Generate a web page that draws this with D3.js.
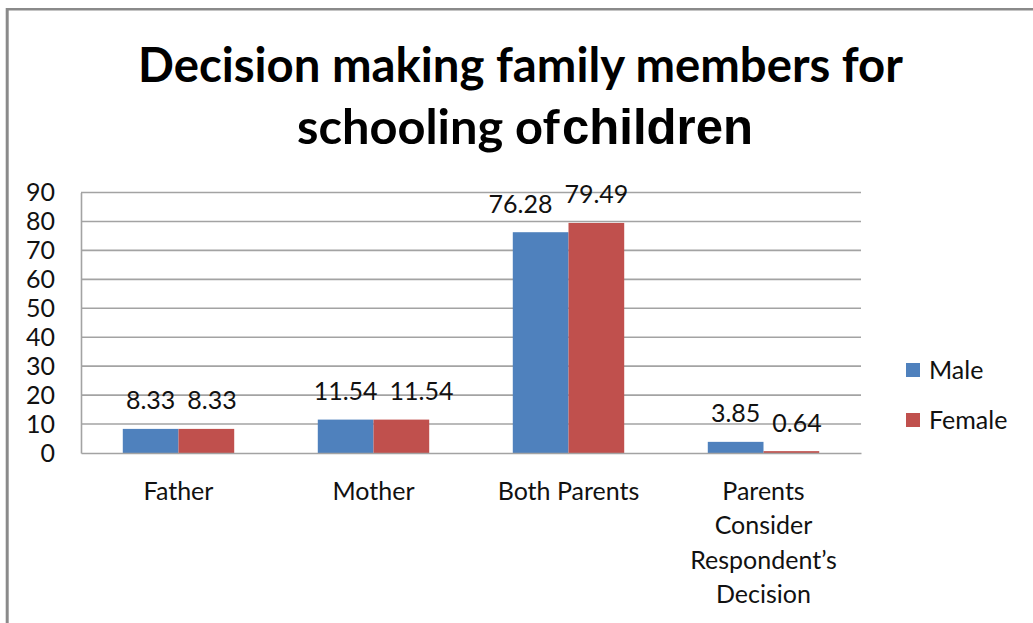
<!DOCTYPE html>
<html>
<head>
<meta charset="utf-8">
<script src="https://cdn.jsdelivr.net/npm/d3@7"></script>
<style>
  html, body { margin: 0; padding: 0; background: #fff; }
  svg { display: block; }
</style>
</head>
<body>
<svg id="chart" width="1033" height="623"></svg>
<script>
// ---- data ----
const categories = ["Father", "Mother", "Both Parents", "Parents Consider Respondent\u2019s Decision"];
const seriesNames = ["Male", "Female"];
const maleValues = [8.33, 11.54, 76.28, 3.85];
const femaleValues = [8.33, 11.54, 79.49, 0.64];
const yTicks = [0, 10, 20, 30, 40, 50, 60, 70, 80, 90];
const titleLine1 = "Decision making family members for";
const titleLine2a = "schooling of";
const titleLine2b = "children";

// ---- styles / layout ----
const colors = { Male: "#4F81BD", Female: "#C0504D" };
const FONT = "Lato, 'Open Sans', sans-serif";
const W = 1033, H = 623;
const plot = { left: 81, right: 861, top: 192.5, bottom: 453 };

const svg = d3.select("#chart");
svg.append("rect").attr("width", W).attr("height", H).attr("fill", "#fff");

// outer frame (left and top edges visible)
svg.append("line").attr("x1", 7).attr("x2", W).attr("y1", 9.3).attr("y2", 9.3)
  .attr("stroke", "#8a8a8a").attr("stroke-width", 2.6);
svg.append("line").attr("x1", 7.2).attr("x2", 7.2).attr("y1", 8).attr("y2", H)
  .attr("stroke", "#8a8a8a").attr("stroke-width", 3);

// title
const t1 = svg.append("text").attr("text-anchor", "middle")
  .attr("font-family", FONT).attr("font-weight", 700).attr("fill", "#000")
  .attr("font-size", 40).attr("x", (138 + 903) / 2).attr("y", 82).text(titleLine1);
const w1 = t1.node().getComputedTextLength();
const titleSize = 40 * 765 / w1;
t1.attr("font-size", titleSize);

const t2 = svg.append("text").attr("font-family", FONT).attr("font-weight", 700)
  .attr("fill", "#000").attr("font-size", titleSize).attr("x", 297).attr("y", 144)
  .text(titleLine2a);
t2.attr("textLength", 263).attr("lengthAdjust", "spacingAndGlyphs");
svg.append("text").attr("font-family", "'Liberation Sans', Arial, sans-serif")
  .attr("font-weight", 700).attr("fill", "#000").attr("font-size", 50)
  .attr("x", 562).attr("y", 144).attr("textLength", 191)
  .attr("lengthAdjust", "spacingAndGlyphs").text(titleLine2b);

// scales
const x0 = d3.scaleBand().domain(categories).range([plot.left, plot.right])
  .paddingInner(0.4286).paddingOuter(0.2143);
const x1 = d3.scaleBand().domain(seriesNames).range([0, x0.bandwidth()]);
const y = d3.scaleLinear().domain([0, 90]).range([plot.bottom, plot.top]);

// gridlines
svg.append("g").selectAll("line").data(yTicks.filter(d => d > 0)).join("line")
  .attr("x1", plot.left).attr("x2", plot.right)
  .attr("y1", d => y(d)).attr("y2", d => y(d))
  .attr("stroke", "#a3a3a3").attr("stroke-width", 1.6);

// y axis via d3.axisLeft
const yAxis = svg.append("g").attr("transform", `translate(${plot.left},0)`)
  .call(d3.axisLeft(y).tickValues(yTicks).tickSize(0).tickPadding(26).tickFormat(d3.format("d")));
yAxis.select(".domain").attr("stroke", "#a3a3a3").attr("stroke-width", 1.6);
yAxis.selectAll("text").attr("font-family", FONT).attr("font-size", 25)
  .attr("fill", "#111").attr("dy", "0.33em");

// data rows
const rows = categories.map((c, i) => ({ cat: c, Male: maleValues[i], Female: femaleValues[i] }));

// bars
const groups = svg.append("g").selectAll("g").data(rows).join("g")
  .attr("transform", d => `translate(${x0(d.cat)},0)`);
groups.selectAll("rect").data(d => seriesNames.map(s => ({ s, v: d[s] }))).join("rect")
  .attr("x", d => x1(d.s)).attr("width", x1.bandwidth())
  .attr("y", d => y(d.v)).attr("height", d => y(0) - y(d.v))
  .attr("fill", d => colors[d.s]);

// x axis baseline
const xAxis = svg.append("g").attr("transform", `translate(0,${plot.bottom})`)
  .call(d3.axisBottom(x0).tickSize(0).tickFormat(""));
xAxis.select(".domain").attr("stroke", "#a3a3a3").attr("stroke-width", 1.6);

// category labels with wrapping
const catG = svg.append("g");
rows.forEach(r => {
  const cx = x0(r.cat) + x0.bandwidth() / 2;
  const txt = catG.append("text").attr("text-anchor", "middle")
    .attr("font-family", FONT).attr("font-size", 25).attr("fill", "#111");
  const words = r.cat.split(" ");
  let lines = [], cur = [];
  const probe = catG.append("text").attr("font-family", FONT).attr("font-size", 25);
  words.forEach(wd => {
    const test = cur.concat([wd]).join(" ");
    probe.text(test);
    if (cur.length && probe.node().getComputedTextLength() > 165) {
      lines.push(cur.join(" "));
      cur = [wd];
    } else cur.push(wd);
  });
  lines.push(cur.join(" "));
  probe.remove();
  lines.forEach((ln, i) => {
    txt.append("tspan").attr("x", cx).attr("y", 499.5 + i * 34.5).text(ln);
  });
});

// value labels with simple collision avoidance
const fmt = d3.format(".2f");
const lblG = svg.append("g");
rows.forEach(r => {
  const items = seriesNames.map(s => {
    const t = lblG.append("text").attr("text-anchor", "middle")
      .attr("font-family", FONT).attr("font-size", 25).attr("fill", "#111")
      .attr("y", y(r[s]) - 19.5).text(fmt(r[s]));
    return { s, t, v: r[s], w: t.node().getComputedTextLength(),
      cx: x0(r.cat) + x1(s) + x1.bandwidth() / 2 };
  });
  const [m, f] = items;
  const overlap = (m.w / 2 + f.w / 2 + 12) - (f.cx - m.cx);
  if (overlap > 0) {
    if (m.v < f.v) m.cx -= overlap; else f.cx += overlap;
  }
  items.forEach(it => it.t.attr("x", it.cx));
});

// legend
const legend = svg.append("g");
seriesNames.forEach((s, i) => {
  const ly = 363 + i * 50;
  legend.append("rect").attr("x", 906).attr("y", ly).attr("width", 14).attr("height", 14)
    .attr("fill", colors[s]);
  legend.append("text").attr("x", 929).attr("y", ly + 15.5)
    .attr("font-family", FONT).attr("font-size", 25).attr("fill", "#111").text(s);
});
</script>
</body>
</html>
